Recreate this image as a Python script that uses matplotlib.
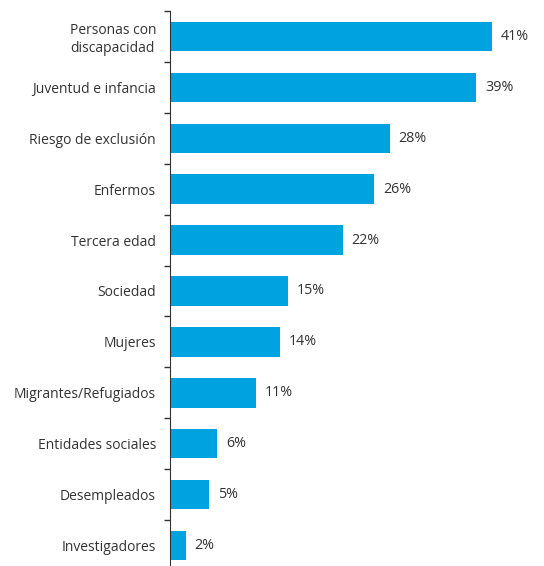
import matplotlib.pyplot as plt
import numpy as np

categories = ['Personas con\ndiscapacidad', 'Juventud e infancia', 'Riesgo de exclusión',
              'Enfermos', 'Tercera edad', 'Sociedad', 'Mujeres',
              'Migrantes/Refugiados', 'Entidades sociales', 'Desempleados',
              'Investigadores']
values = [41, 39, 28, 26, 22, 15, 14, 11, 6, 5, 2]

plt.rcParams['font.family'] = ['Open Sans', 'DejaVu Sans']

fig = plt.figure(figsize=(5.44, 5.66), dpi=100)
# axis runs from y=11px down to just past the bottom edge
ax = fig.add_axes([170 / 544, -5 / 566, 1 - 170 / 544, 560 / 566])

y = np.arange(len(categories))
ax.barh(y, values, height=0.58, color='#00A3E0')
for yi, v in zip(y, values):
    ax.text(v + 1.1, yi, f'{v}%', va='center', ha='left', fontsize=10.3, color='#333333')

ax.set_ylim(len(categories) - 0.5, -0.5)
ax.set_xlim(0, 47.6)
ax.set_yticks(y)
ax.set_yticklabels(categories, fontsize=10, color='#333333', ha='right',
                   multialignment='center')
ax.tick_params(axis='y', which='major', length=0, pad=10)
ax.set_yticks(np.arange(-0.5, len(categories), 1), minor=True)
ax.tick_params(axis='y', which='minor', length=4, width=1, color='#333333')
ax.set_xticks([])
for s in ['top', 'right', 'bottom']:
    ax.spines[s].set_visible(False)
ax.spines['left'].set_color('#333333')

fig.savefig('out.png', dpi=100)
